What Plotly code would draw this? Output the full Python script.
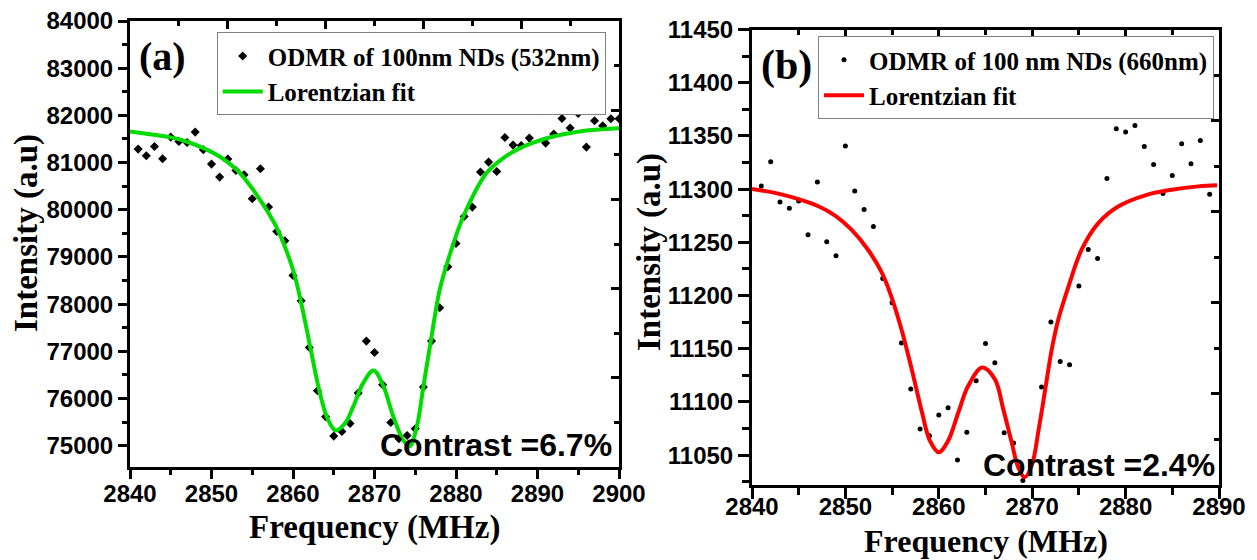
import plotly.graph_objects as go

W, H = 1257, 560

# ---------------- panel (a): 532 nm excitation ----------------
freq_a = list(range(2841, 2901))
odmr_a = [
    81286, 81144, 81341, 81080, 81540, 81447, 81426, 81646, 81271, 80968,
    80693, 81074, 80833, 80742, 80233, 80869, 80057, 79540, 79343, 78608,
    78072, 77083, 76165, 75614, 75205, 75303, 75472, 76116, 77218, 76977,
    76292, 75494, 75150, 75218, 75360, 76243, 77218, 77924, 78792, 79286,
    79858, 80057, 80799, 81010, 80811, 81532, 81371, 81362, 81519, 82097,
    81413, 81604, 81934, 81731, 82040, 81328, 81886, 81780, 81928, 81928,
]
fit_freq_a = [
    2840.0, 2842.9, 2845.0, 2846.9, 2849.0, 2851.0, 2853.1, 2854.7, 2856.0,
    2858.0, 2860.0, 2861.1, 2862.1, 2863.3, 2864.3, 2865.25, 2866.4, 2867.4,
    2868.6, 2869.9, 2871.1, 2872.3, 2873.5, 2874.3, 2875.2, 2876.0, 2877.0,
    2878.0, 2879.3, 2880.9, 2883.75, 2885.8, 2887.85, 2889.9, 2891.9, 2894.0,
    2896.0, 2898.1, 2900.0,
]
fit_a = [
    81659, 81589, 81535, 81447, 81307, 81130, 80847, 80520, 80200,
    79620, 78729, 77951, 77104, 76116, 75551, 75324, 75481, 75833,
    76328, 76596, 76257, 75621, 75127, 74986, 75409, 76257, 77316,
    78305, 79083, 79858, 80778, 81095, 81307, 81447, 81553, 81625,
    81680, 81709, 81730,
]

# ---------------- panel (b): 660 nm excitation ----------------
freq_b = [
    2841, 2842, 2843, 2844, 2845, 2846, 2847, 2848, 2849, 2850,
    2851, 2852, 2853, 2854, 2855, 2856, 2857, 2858, 2859, 2860,
    2861, 2862, 2863, 2864, 2865, 2866, 2867, 2868, 2869, 2871,
    2872, 2873, 2874, 2875, 2876, 2877, 2878, 2879, 2880, 2881,
    2882, 2883, 2884, 2885, 2886, 2887, 2888, 2889,
]
odmr_b = [
    11303.0, 11325.8, 11288.0, 11282.0, 11288.9, 11257.1, 11306.7, 11250.5, 11237.4, 11340.5,
    11298.3, 11280.8, 11264.9, 11216.1, 11193.3, 11155.5, 11112.1, 11074.6, 11068.3, 11087.7,
    11094.6, 11045.6, 11071.5, 11119.9, 11154.9, 11136.9, 11071.1, 11061.5, 11026.2, 11114.2,
    11175.2, 11138.0, 11134.9, 11208.9, 11243.3, 11234.9, 11310.1, 11356.7, 11353.6, 11359.8,
    11340.1, 11323.2, 11295.8, 11312.7, 11342.6, 11323.9, 11345.7, 11295.1,
]
fit_freq_b = [
    2840.0, 2842.8, 2844.9, 2847.1, 2848.9, 2850.65, 2852.4, 2853.9, 2854.9,
    2856.0, 2857.1, 2858.2, 2859.05, 2860.0, 2861.0, 2862.1, 2863.15, 2864.65,
    2866.0, 2866.9, 2867.8, 2868.5, 2869.2, 2869.95, 2870.7, 2871.4, 2872.1,
    2872.8, 2873.9, 2875.3, 2877.1, 2879.25, 2882.1, 2884.95, 2887.8, 2889.8,
]
fit_b = [
    11300.2, 11295.8, 11290.8, 11283.9, 11275.2, 11262.0, 11243.3, 11221.5, 11199.5,
    11168.3, 11130.8, 11090.3, 11063.6, 11052.8, 11063.6, 11090.3, 11115.2, 11132.4,
    11121.5, 11093.3, 11062.1, 11038.7, 11029.3, 11040.2, 11074.6, 11112.1, 11149.6,
    11177.7, 11208.9, 11243.3, 11268.3, 11283.9, 11294.2, 11299.5, 11302.6, 11303.6,
]

# ---------------- styling ----------------
SANS = "Liberation Sans"
SERIF = "Liberation Serif"
GREEN = "#00DC00"
RED = "#FF0000"

# plot-area pixel boxes (left, right, top, bottom)
box_a = (130, 619, 21, 467)
box_b = (752, 1219, 29.5, 485)


def xdom(b):
    return [b[0] / W, b[1] / W]


def ydom(b):
    return [(H - b[3]) / H, (H - b[2]) / H]


tick_font = dict(family=SANS, size=24, color="black", weight="bold")
title_font = dict(family=SERIF, size=33, color="black", weight="bold")
title_font_b = dict(family=SERIF, size=32, color="black", weight="bold")


def main_axis(domain, rng, dtick, tick0, minor_dtick, ticklen, minor_len,
              anchor, label_shift=0, fmt=None):
    ax = dict(
        domain=domain, range=rng, anchor=anchor, automargin=False,
        showline=True, linecolor="black", linewidth=3, mirror=False,
        ticks="outside", ticklen=ticklen, tickwidth=3, tickcolor="black",
        dtick=dtick, tick0=tick0,
        minor=dict(dtick=minor_dtick, tick0=tick0, ticks="outside",
                   ticklen=minor_len, tickwidth=3, tickcolor="black", showgrid=False),
        showgrid=False, zeroline=False,
        tickfont=tick_font, ticklabelstandoff=label_shift,
    )
    if fmt:
        ax["tickformat"] = fmt
    return ax


def frame_axis(side, overlay, anchor):
    # top / right frame with ten inward divisions
    return dict(
        overlaying=overlay, anchor=anchor, side=side, range=[0, 10],
        automargin=False,
        showline=True, linecolor="black", linewidth=3,
        ticks="inside", ticklen=8, tickwidth=3, tickcolor="black",
        dtick=2, tick0=0,
        minor=dict(dtick=1, tick0=0, ticks="inside", ticklen=5, tickwidth=3,
                   tickcolor="black", showgrid=False),
        showticklabels=False, showgrid=False, zeroline=False,
    )


fig = go.Figure()

# panel (a)
fig.add_trace(go.Scatter(
    x=freq_a, y=odmr_a, mode="markers", name="ODMR of 100nm NDs (532nm)",
    marker=dict(symbol="diamond", size=7, color="black"),
    xaxis="x", yaxis="y", legend="legend",
))
fig.add_trace(go.Scatter(
    x=fit_freq_a, y=fit_a, mode="lines", name="Lorentzian fit",
    line=dict(color=GREEN, width=4, shape="spline", smoothing=1.0),
    xaxis="x", yaxis="y", legend="legend",
))

# panel (b)
fig.add_trace(go.Scatter(
    x=freq_b, y=odmr_b, mode="markers", name="ODMR of 100 nm NDs (660nm)",
    marker=dict(symbol="circle", size=5, color="black"),
    xaxis="x2", yaxis="y2", legend="legend2",
))
fig.add_trace(go.Scatter(
    x=fit_freq_b, y=fit_b, mode="lines", name="Lorentzian fit",
    line=dict(color=RED, width=4, shape="spline", smoothing=1.0),
    xaxis="x2", yaxis="y2", legend="legend2",
))

# frame axes need a trace on them to be drawn
for xa, ya in (("x3", "y3"), ("x4", "y4")):
    fig.add_trace(go.Scatter(x=[None], y=[None], xaxis=xa, yaxis=ya,
                             showlegend=False, hoverinfo="skip"))

legend_common = dict(
    xanchor="left", yanchor="top",
    bgcolor="white", bordercolor="#808080", borderwidth=1,
    font=dict(family=SERIF, size=25, color="black", weight="bold"),
    tracegroupgap=0, itemwidth=40,
)


def label(text, x, y, font, angle=0, xanchor="center"):
    return dict(text=text, x=x / W, y=1 - y / H, xref="paper", yref="paper",
                showarrow=False, xanchor=xanchor, yanchor="middle",
                textangle=angle, font=font)


fig.update_layout(
    width=W, height=H, autosize=False,
    margin=dict(l=0, r=0, t=0, b=0, pad=0),
    paper_bgcolor="white", plot_bgcolor="white",
    xaxis=main_axis(xdom(box_a), [2840, 2900], 10, 2840, 5, 9, 5, "y", label_shift=-6),
    yaxis=main_axis(ydom(box_a), [74550, 84000], 1000, 75000, 500, 9, 5, "x", fmt="d"),
    xaxis2=main_axis(xdom(box_b), [2840, 2890], 10, 2840, 5, 11, 7, "y2", label_shift=-13),
    yaxis2=main_axis(ydom(box_b), [11022, 11450], 50, 11050, 25, 11, 7, "x2", fmt="d"),
    xaxis3=frame_axis("top", "x", "y3"),
    yaxis3=frame_axis("right", "y", "x3"),
    xaxis4=frame_axis("top", "x2", "y4"),
    yaxis4=frame_axis("right", "y2", "x4"),
    legend=dict(x=216.7 / W, y=1 - 32.3 / H, **legend_common),
    legend2=dict(x=818 / W, y=1 - 36 / H, **legend_common),
    annotations=[
        # axis titles
        label("Frequency (MHz)", 374.5, 527, title_font),
        label("Frequency (MHz)", 985.5, 541, title_font_b),
        label("Intensity (a.u)", 26, 233, title_font, angle=-90),
        label("Intensity (a.u)", 650, 252, title_font, angle=-90),
        # panel tags
        label("(a)", 162, 57, dict(family=SERIF, size=40, color="black", weight="bold")),
        label("(b)", 786, 65, dict(family=SERIF, size=42, color="black", weight="bold")),
        # contrast values
        label("Contrast =6.7%", 614, 444.5,
              dict(family=SANS, size=32, color="black", weight="bold"), xanchor="right"),
        label("Contrast =2.4%", 1217, 465,
              dict(family=SANS, size=32, color="black", weight="bold"), xanchor="right"),
    ],
)

fig.write_html("out.html", config={"displayModeBar": False})
